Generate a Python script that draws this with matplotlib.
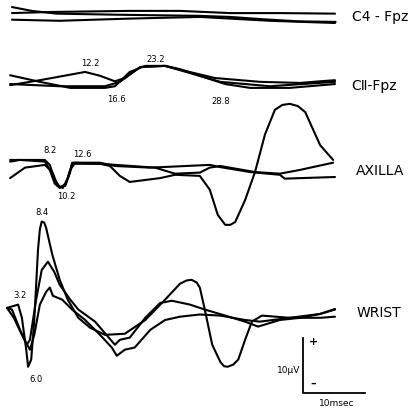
import matplotlib.pyplot as plt

# Superimposed SEP traces, four recording sites (time in ms, amplitude in uV)

# C4 - Fpz
c4_t = [[0.8, 4, 8, 18, 31, 36, 41, 47, 53],
        [0.8, 6.9, 19.8, 27.9, 36.0, 44.0, 52.9],
        [0.8, 8.5, 19.8, 31.1, 42.4, 52.9]]
c4_v = [[1.6, 0.9, 0.4, 0.2, 0.0, -0.2, -0.6, -1.0, -1.1],
        [0.5, 0.7, 0.9, 0.9, 0.5, 0.5, 0.4],
        [-0.7, -0.9, -0.5, -0.2, -0.9, -1.3]]

# CII - Fpz
c2_t = [[0.5, 5.3, 10.2, 15.8, 17.4, 19.8, 22.3, 25.5, 27.9, 31.1, 35.2, 39.2, 45.6, 52.9],
        [0.5, 5.3, 12.6, 15.0, 17.4, 19.0, 21.5, 25.5, 28.7, 33.5, 40.8, 47.3, 50.5, 52.9],
        [0.5, 8.5, 15.8, 18.2, 21.5, 25.5, 29.5, 34.4, 42.4, 52.9]]
c2_v = [[1.6, 0.4, -0.7, -0.7, -0.4, 2.2, 3.3, 3.3, 2.7, 1.5, 0.0, -0.7, -0.7, 0.0],
        [-0.2, 0.7, 2.2, 1.5, 0.5, 1.1, 3.1, 3.3, 2.4, 1.1, 0.4, 0.2, 0.5, 0.7],
        [0.0, -0.4, -0.4, 0.4, 3.1, 3.3, 2.0, 0.4, -0.4, 0.4]]

# Axilla
ax_t = [[0.5, 6.1, 6.9, 7.7, 8.5, 9.4, 10.2, 10.5, 15.0, 17.4, 23.1, 32.7, 34.4, 39.2, 44.0, 44.8, 52.9],
        [0.5, 2.9, 6.1, 7.3, 8.2, 9.0, 9.8, 10.5, 15.0, 16.6, 18.2, 19.8, 24.7, 27.1, 31.1, 32.7,
         34.0, 35.2, 36.0, 36.8, 38.4, 40.0, 41.6, 43.2, 44.4, 45.6, 46.9, 48.1, 50.5, 52.6],
        [0.5, 2.1, 6.1, 6.9, 7.7, 8.5, 9.5, 10.2, 11.0, 15.0, 23.9, 27.1, 31.1, 32.7, 34.4, 40.0,
         44.0, 47.3, 52.6]]
ax_v = [[1.8, 1.8, 0.9, -1.8, -3.1, -2.9, -0.4, 1.3, 1.3, 0.7, 0.4, 0.9, 0.5, -0.4, -0.9, -1.6, -1.3],
        [-1.5, 0.4, 0.9, -0.4, -2.9, -3.3, -1.5, 1.1, 1.1, 0.7, -1.1, -2.2, -1.5, -0.9, -1.1, -3.6,
         -8.2, -10.0, -10.0, -9.5, -5.5, -0.4, 6.4, 10.9, 11.8, 12.0, 11.6, 10.5, 4.5, 1.8],
        [1.5, 1.8, 1.5, 0.0, -2.5, -3.3, -2.5, 0.0, 1.3, 1.1, 0.4, -0.7, -0.5, 0.4, 0.7, -0.4,
         -0.7, 0.0, 1.3]]

# Wrist
wr_t = [[0.0, 1.8, 2.4, 3.1, 3.4, 3.9, 4.4, 5.0, 5.3, 5.6, 6.0, 6.3, 7.3, 8.5, 9.8, 11.5, 13.4, 15.8,
         19.0, 22.3, 25.5, 27.9, 29.0, 29.8, 30.6, 31.1, 31.9, 33.1, 34.4, 35.0, 35.6, 36.5, 37.3,
         38.4, 39.5, 41.1, 45.6, 50.5, 52.9],
        [0.0, 0.8, 2.1, 3.2, 3.7, 4.7, 5.6, 6.6, 7.6, 8.5, 10.2, 11.5, 14.2, 17.4, 18.2, 19.8, 22.3,
         24.7, 26.6, 29.5, 31.9, 35.2, 38.4, 40.5, 44.0, 47.3, 50.5, 52.9],
        [0.0, 1.1, 2.4, 3.7, 4.4, 5.3, 6.3, 6.9, 7.4, 8.9, 10.5, 12.6, 15.0, 16.9, 17.7, 19.0, 20.6,
         23.1, 25.5, 27.9, 31.1, 34.4, 38.4, 40.8, 45.6, 50.5, 52.9]]
wr_v = [[0.7, 1.3, -1.1, -6.9, -10.0, -8.7, -1.5, 11.3, 15.0, 16.4, 16.2, 15.3, 10.4, 5.8, 2.2, -1.1,
         -2.9, -4.2, -4.0, -1.5, 2.2, 5.1, 5.7, 5.8, 5.3, 4.4, 0.4, -6.0, -9.1, -9.9, -10.0, -9.6,
         -8.7, -5.1, -1.8, -0.7, -1.1, -0.4, 0.4],
        [0.7, 0.4, -3.3, -6.0, -5.1, 2.2, 7.6, 9.1, 7.3, 4.9, 2.2, 0.4, -1.8, -6.0, -5.1, -4.7, -1.1,
         1.6, 2.0, 1.3, 0.4, -0.7, -1.8, -2.7, -1.5, -1.1, -0.4, 0.5],
        [0.7, -1.1, -4.2, -6.9, -4.2, 1.3, 3.6, 4.4, 2.9, 2.2, 0.4, -1.5, -4.2, -6.5, -8.0, -6.9, -6.5,
         -3.3, -1.5, -0.9, -0.5, -0.7, -1.5, -1.8, -1.1, -1.1, -0.9]]

sites = ["C4 - Fpz", "C\u2161-Fpz", "AXILLA", "WRIST"]
offsets = [71.3, 58.9, 43.3, 17.5]

# peak latencies: (text, time, height)
peaks = [("12.2", 13.4, 62.7), ("23.2", 23.9, 63.3), ("16.6", 17.7, 56.0), ("28.8", 34.4, 55.8),
         ("8.2", 6.9, 46.9), ("12.6", 12.1, 46.0), ("10.2", 9.5, 38.5),
         ("8.4", 5.6, 35.5), ("3.2", 2.1, 20.5), ("6.0", 4.7, 5.1)]

scale_ms = 10
scale_uv = 10

fig = plt.figure(figsize=(4.19, 4.08), dpi=100)
ax = fig.add_axes([0, 0, 1, 1])
ax.set_xlim(-1.13, 66.45)
ax.set_ylim(0, 74.18)
ax.axis("off")

for ts, vs, off in zip([c4_t, c2_t, ax_t, wr_t], [c4_v, c2_v, ax_v, wr_v], offsets):
    for t, v in zip(ts, vs):
        ax.plot(t, [y + off for y in v], color="black", lw=1.5,
                solid_joinstyle="round", solid_capstyle="round")

for name, off, x in zip(sites, offsets, [55.6, 55.6, 56.3, 56.3]):
    ax.text(x, off - 0.3, name, fontsize=10, va="center", ha="left")

for txt, x, y in peaks:
    ax.text(x, y, txt, fontsize=6, ha="center", va="center")

# calibration bar
x0, y0 = 47.7, 2.7
ax.plot([x0, x0, x0 + scale_ms], [y0 + scale_uv, y0, y0], color="black", lw=1.3)
ax.text(x0 + 1.7, y0 + scale_uv - 0.7, "+", fontsize=8, ha="center", va="center", fontweight="bold")
ax.text(x0 + 1.7, y0 + 1.8, "\u2013", fontsize=8, ha="center", va="center", fontweight="bold")
ax.text(x0 - 0.4, y0 + 4.2, "10\u00b5V", fontsize=6.5, ha="right", va="center")
ax.text(x0 + 5.5, y0 - 1.8, "10msec", fontsize=6.5, ha="center", va="center")

plt.savefig("out.png", dpi=100)
